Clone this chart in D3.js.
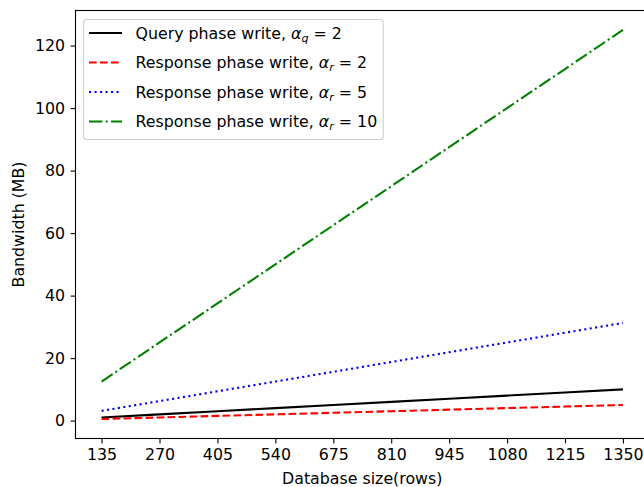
<!DOCTYPE html>
<html>
<head>
<meta charset="utf-8">
<style>
  body { margin: 0; background: #fff; }
  svg text { font-family: "DejaVu Sans", sans-serif; }
</style>
</head>
<body>
<svg id="chart" width="644" height="487"></svg>
<script src="https://cdn.jsdelivr.net/npm/d3@7"></script>
<script>
// database sizes (rows)
const rows = [135, 270, 405, 540, 675, 810, 945, 1080, 1215, 1350]
// bandwidth in MB
const queryQ2 = [1, 2, 3, 4, 5, 6, 7, 8, 9, 10]
const respR2 = [0.5, 1, 1.5, 2, 2.5, 3, 3.5, 4, 4.5, 5]
const respR5 = [3.125, 6.25, 9.375, 12.5, 15.625, 18.75, 21.875, 25, 28.125, 31.25]
const respR10 = [12.5, 25, 37.5, 50, 62.5, 75, 87.5, 100, 112.5, 125]
const yTicks = [0, 20, 40, 60, 80, 100, 120]

const series = [
  { name: "Query phase write, ", sym: "q", num: "2", values: queryQ2, color: "#000000", dash: null },
  { name: "Response phase write, ", sym: "r", num: "2", values: respR2, color: "#ff0000", dash: "7.7,3.3" },
  { name: "Response phase write, ", sym: "r", num: "5", values: respR5, color: "#0000ff", dash: "2.1,3.4" },
  { name: "Response phase write, ", sym: "r", num: "10", values: respR10, color: "#008000", dash: "13.3,3.3,2.1,3.3" }
]

const svg = d3.select("#chart")
const plotL = 75.5, plotR = 649, plotT = 10.5, plotB = 438.5
const fs = 15.8

// matplotlib style 5% margins
const xPad = (d3.max(rows) - d3.min(rows)) * 0.05
const allVals = series.flatMap(s => s.values)
const yMin = d3.min(allVals), yMax = d3.max(allVals)
const yPad = (yMax - yMin) * 0.05

const x = d3.scaleLinear()
  .domain([d3.min(rows) - xPad, d3.max(rows) + xPad])
  .range([plotL, plotR])
const y = d3.scaleLinear()
  .domain([yMin - yPad, yMax + yPad])
  .range([plotB, plotT])

const line = d3.line()
  .x((d, i) => x(rows[i]))
  .y(d => y(d))

svg.selectAll("path.series")
  .data(series)
  .enter()
  .append("path")
  .attr("class", "series")
  .attr("fill", "none")
  .attr("stroke", d => d.color)
  .attr("stroke-width", 2.1)
  .attr("stroke-dasharray", d => d.dash)
  .attr("d", d => line(d.values))

// axes
const xAxis = svg.append("g")
  .attr("transform", `translate(0,${plotB})`)
  .call(d3.axisBottom(x).tickValues(rows).tickSize(4.9).tickPadding(5.5).tickFormat(d3.format("d")))
const yAxis = svg.append("g")
  .attr("transform", `translate(${plotL},0)`)
  .call(d3.axisLeft(y).tickValues(yTicks).tickSize(4.9).tickPadding(5.5))

for (const g of [xAxis, yAxis]) {
  g.select(".domain").remove()
  g.selectAll("line").attr("stroke", "#000").attr("stroke-width", 1.1)
  g.selectAll("text").attr("font-size", fs).attr("fill", "#000")
    .style("font-family", "DejaVu Sans")
}

// frame
svg.append("rect")
  .attr("x", plotL).attr("y", plotT)
  .attr("width", plotR - plotL).attr("height", plotB - plotT)
  .attr("fill", "none").attr("stroke", "#000").attr("stroke-width", 1.1)

// axis labels
svg.append("text")
  .attr("x", (plotL + plotR) / 2).attr("y", 484)
  .attr("text-anchor", "middle").attr("font-size", fs)
  .text("Database size(rows)")
svg.append("text")
  .attr("transform", `translate(24,${(plotT + plotB) / 2}) rotate(-90)`)
  .attr("text-anchor", "middle").attr("font-size", fs)
  .text("Bandwidth (MB)")

// legend
const legend = svg.append("g")
const box = legend.append("rect")
  .attr("x", 83.5).attr("y", 19.5).attr("height", 120)
  .attr("rx", 3).attr("fill", "#fff").attr("fill-opacity", 0.8)
  .attr("stroke", "#d0d0d0").attr("stroke-width", 1.1)

const rowY = [33, 62.5, 92, 121.5]
let textEnd = 0
series.forEach((s, i) => {
  const yy = rowY[i]
  legend.append("line")
    .attr("x1", 89).attr("x2", 122).attr("y1", yy).attr("y2", yy)
    .attr("stroke", s.color).attr("stroke-width", 2.1)
    .attr("stroke-dasharray", s.dash)
  const t = legend.append("text")
    .attr("x", 135.5).attr("y", yy + 5.5).attr("font-size", fs)
  t.append("tspan").text(s.name)
  t.append("tspan").attr("font-style", "italic").text("α")
  t.append("tspan").attr("font-style", "italic").attr("font-size", fs * 0.7)
    .attr("dy", 3).text(s.sym)
  t.append("tspan").attr("dy", -3).text(" = " + s.num)
  textEnd = Math.max(textEnd, 135.5 + t.node().getComputedTextLength())
})
box.attr("width", textEnd + 6 - 83.5)
</script>
</body>
</html>
